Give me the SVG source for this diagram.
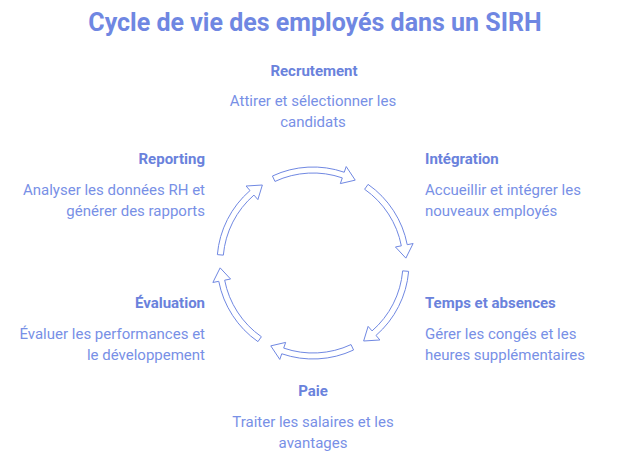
<svg xmlns="http://www.w3.org/2000/svg" width="624" height="464" viewBox="0 0 624 464">
<style>
.title{font-family:Roboto,"Liberation Sans",sans-serif;font-weight:700;font-size:25px;fill:#6f87e2}
.h{font-family:Roboto,"Liberation Sans",sans-serif;font-weight:700;font-size:15px;fill:#6a82dc}
.b{font-family:Roboto,"Liberation Sans",sans-serif;font-size:15px;fill:#7890e6}
.arr{fill:#ffffff;stroke:#7088e2;stroke-width:1;stroke-linejoin:miter}
</style>
<rect width="624" height="464" fill="#ffffff"/>
<text class="title" x="315" y="31" text-anchor="middle">Cycle de vie des employés dans un SIRH</text>
<g id="connectors">
<path class="arr" d="M272.43,176.00 A96,96 0 0 1 344.26,172.23 L346.21,166.56 L355.22,180.14 L340.35,183.58 L342.30,177.90 A90,90 0 0 0 274.97,181.43 Z"/>
<path class="arr" d="M368.07,184.36 A96,96 0 0 1 407.23,244.68 L413.12,243.54 L405.87,258.14 L395.45,246.97 L401.34,245.83 A90,90 0 0 0 364.62,189.27 Z"/>
<path class="arr" d="M408.64,271.37 A96,96 0 0 1 375.99,335.45 L379.92,339.98 L363.65,341.00 L368.11,326.39 L372.05,330.92 A90,90 0 0 0 402.66,270.85 Z"/>
<path class="arr" d="M353.57,350.00 A96,96 0 0 1 281.74,353.77 L279.79,359.44 L270.78,345.86 L285.65,342.42 L283.70,348.10 A90,90 0 0 0 351.03,344.57 Z"/>
<path class="arr" d="M257.93,341.64 A96,96 0 0 1 218.77,281.32 L212.88,282.46 L220.13,267.86 L230.55,279.03 L224.66,280.17 A90,90 0 0 0 261.38,336.73 Z"/>
<path class="arr" d="M217.36,254.63 A96,96 0 0 1 250.01,190.55 L246.08,186.02 L262.35,185.00 L257.89,199.61 L253.95,195.08 A90,90 0 0 0 223.34,255.15 Z"/>
</g>
<g id="recrutement">
<text class="h" x="314" y="76" text-anchor="middle">Recrutement</text>
<text class="b" x="313" y="106" text-anchor="middle">Attirer et sélectionner les</text>
<text class="b" x="313" y="127" text-anchor="middle">candidats</text>
</g>
<g id="integration">
<text class="h" x="425" y="164">Intégration</text>
<text class="b" x="425" y="195">Accueillir et intégrer les</text>
<text class="b" x="425" y="216">nouveaux employés</text>
</g>
<g id="temps">
<text class="h" x="425" y="308">Temps et absences</text>
<text class="b" x="425" y="339">Gérer les congés et les</text>
<text class="b" x="425" y="360">heures supplémentaires</text>
</g>
<g id="paie">
<text class="h" x="313" y="396" text-anchor="middle">Paie</text>
<text class="b" x="313" y="427" text-anchor="middle">Traiter les salaires et les</text>
<text class="b" x="313" y="448" text-anchor="middle">avantages</text>
</g>
<g id="evaluation">
<text class="h" x="205" y="308" text-anchor="end">Évaluation</text>
<text class="b" x="205" y="339" text-anchor="end">Évaluer les performances et</text>
<text class="b" x="205" y="360" text-anchor="end">le développement</text>
</g>
<g id="reporting">
<text class="h" x="205" y="164" text-anchor="end">Reporting</text>
<text class="b" x="205" y="195" text-anchor="end">Analyser les données RH et</text>
<text class="b" x="205" y="216" text-anchor="end">générer des rapports</text>
</g>
</svg>
